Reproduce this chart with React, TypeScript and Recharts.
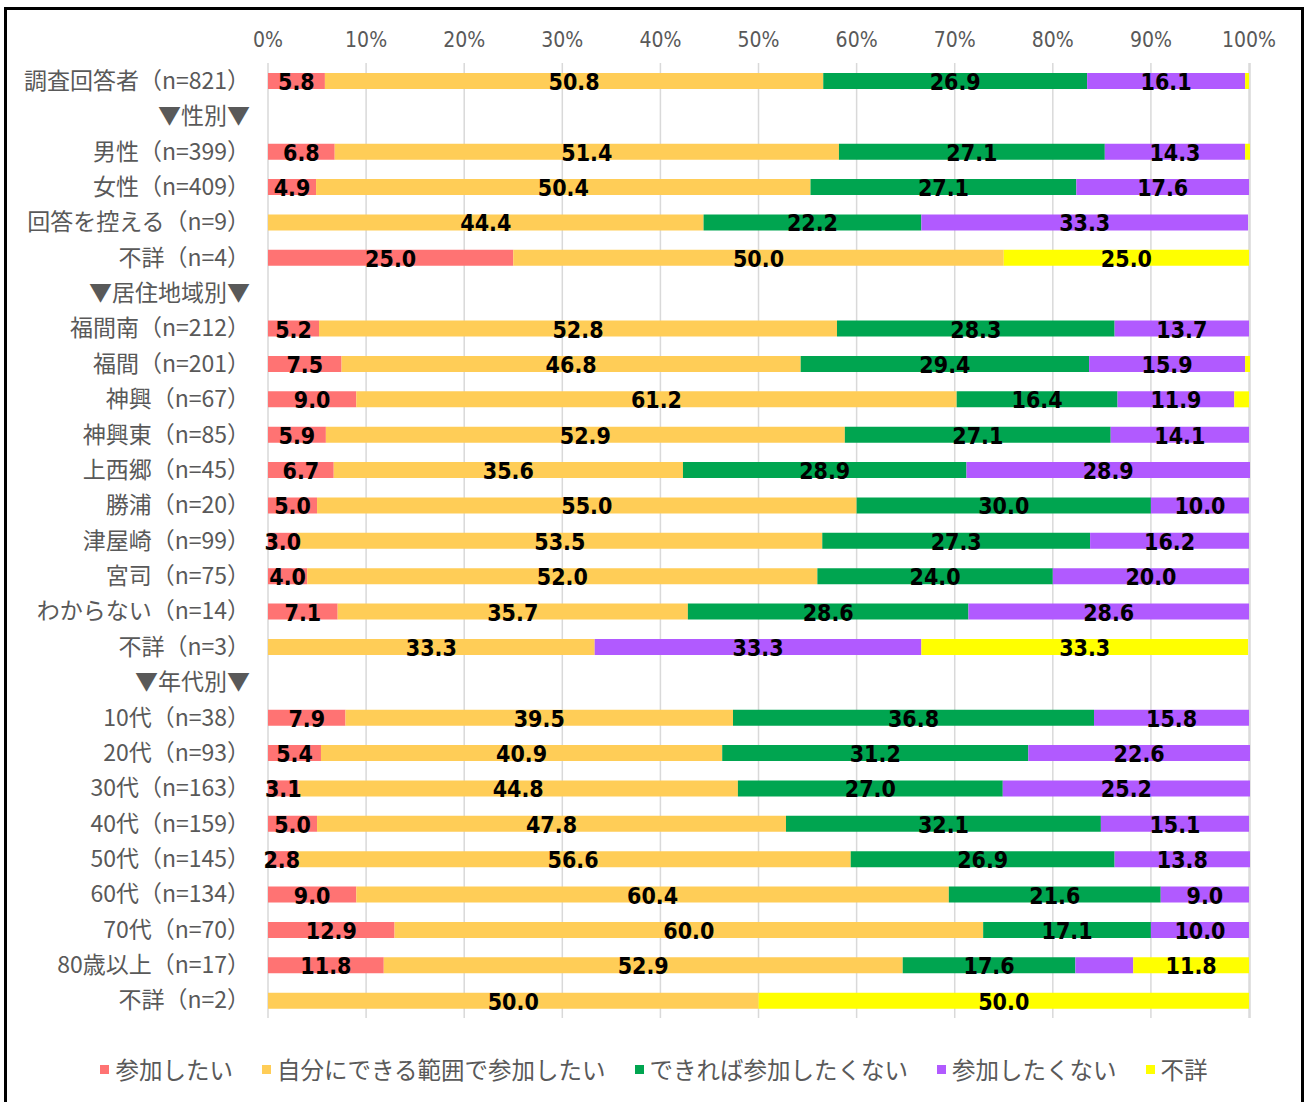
import { BarChart, Bar, XAxis, YAxis, CartesianGrid, Legend, LabelList } from 'recharts';

const categories = [
  '調査回答者（n=821）',
  '▼性別▼',
  '男性（n=399）',
  '女性（n=409）',
  '回答を控える（n=9）',
  '不詳（n=4）',
  '▼居住地域別▼',
  '福間南（n=212）',
  '福間（n=201）',
  '神興（n=67）',
  '神興東（n=85）',
  '上西郷（n=45）',
  '勝浦（n=20）',
  '津屋崎（n=99）',
  '宮司（n=75）',
  'わからない（n=14）',
  '不詳（n=3）',
  '▼年代別▼',
  '10代（n=38）',
  '20代（n=93）',
  '30代（n=163）',
  '40代（n=159）',
  '50代（n=145）',
  '60代（n=134）',
  '70代（n=70）',
  '80歳以上（n=17）',
  '不詳（n=2）',
];

// header rows (▼…▼) have no values
const want = [5.8, null, 6.8, 4.9, 0, 25.0, null, 5.2, 7.5, 9.0, 5.9, 6.7, 5.0, 3.0, 4.0, 7.1, 0, null, 7.9, 5.4, 3.1, 5.0, 2.8, 9.0, 12.9, 11.8, 0];
const withinMeans = [50.8, null, 51.4, 50.4, 44.4, 50.0, null, 52.8, 46.8, 61.2, 52.9, 35.6, 55.0, 53.5, 52.0, 35.7, 33.3, null, 39.5, 40.9, 44.8, 47.8, 56.6, 60.4, 60.0, 52.9, 50.0];
const ratherNot = [26.9, null, 27.1, 27.1, 22.2, 0, null, 28.3, 29.4, 16.4, 27.1, 28.9, 30.0, 27.3, 24.0, 28.6, 0, null, 36.8, 31.2, 27.0, 32.1, 26.9, 21.6, 17.1, 17.6, 0];
const notWant = [16.1, null, 14.3, 17.6, 33.3, 0, null, 13.7, 15.9, 11.9, 14.1, 28.9, 10.0, 16.2, 20.0, 28.6, 33.3, null, 15.8, 22.6, 25.2, 15.1, 13.8, 9.0, 10.0, 5.9, 0];
const unknown = [0.4, null, 0.5, 0, 0, 25.0, null, 0, 0.5, 1.5, 0, 0, 0, 0, 0, 0, 33.3, null, 0, 0, 0, 0, 0, 0, 0, 11.8, 50.0];

const xTicks = [0, 10, 20, 30, 40, 50, 60, 70, 80, 90, 100];

const series = [
  { key: 'want', name: '参加したい', color: '#FF7373', values: want },
  { key: 'withinMeans', name: '自分にできる範囲で参加したい', color: '#FFCD57', values: withinMeans },
  { key: 'ratherNot', name: 'できれば参加したくない', color: '#00A550', values: ratherNot },
  { key: 'notWant', name: '参加したくない', color: '#B15AFF', values: notWant },
  { key: 'unknown', name: '不詳', color: '#FFFF00', values: unknown },
];

// labels the original leaves off (tiny slivers + this one)
const hiddenLabels = [{ row: '80歳以上（n=17）', key: 'notWant' }];

const data = categories.map((name, i) => {
  const row: Record<string, any> = { name };
  series.forEach(s => {
    const v = s.values[i];
    row[s.key] = v;
    const hidden = v == null || v < 2 || hiddenLabels.some(h => h.row === name && h.key === s.key);
    row[s.key + 'Label'] = hidden ? null : v;
  });
  return row;
});

const GRAY = '#595959';
const CJK = "'Noto Sans CJK JP', 'Noto Sans', sans-serif";

const renderLabel = (props: any) => {
  const { value } = props;
  if (value == null) return null;
  const vb = props.viewBox || props;
  const cx = vb.x + vb.width / 2;
  const cy = vb.y + vb.height / 2;
  return (
    <text
      x={cx}
      y={cy + 1}
      textAnchor="middle"
      dominantBaseline="central"
      fill="#000"
      fontSize={23}
      fontWeight="bold"
      fontFamily="'DejaVu Sans Condensed', 'DejaVu Sans', sans-serif"
    >
      {Number(value).toFixed(1)}
    </text>
  );
};

function LegendContent() {
  return (
    <div style={{ display: 'flex', justifyContent: 'center', alignItems: 'center', gap: 29 }}>
      {series.map(s => (
        <div key={s.key} style={{ display: 'flex', alignItems: 'center' }}>
          <span style={{ display: 'inline-block', width: 9, height: 9, background: s.color, marginRight: 6 }} />
          <span style={{ fontSize: 23.5, color: GRAY, fontFamily: CJK, lineHeight: '30px' }}>{s.name}</span>
        </div>
      ))}
    </div>
  );
}

export default function App() {
  return (
    <div
      style={{
        position: 'absolute',
        left: 4,
        top: 7,
        width: 1294,
        height: 1100,
        border: '3px solid #000',
        background: '#fff',
      }}
    >
      <BarChart
        width={1294}
        height={1092}
        data={data}
        layout="vertical"
        margin={{ top: 20, right: 51, bottom: 84, left: 0 }}
        barSize={16}
      >
        <CartesianGrid horizontal={false} stroke="#D9D9D9" strokeWidth={1.5} />
        <XAxis
          type="number"
          orientation="top"
          domain={[0, 100]}
          ticks={xTicks}
          tickFormatter={(v: number) => `${v}%`}
          axisLine={false}
          tickLine={false}
          height={33}
          tickMargin={10}
          tick={{ fill: GRAY, fontSize: 21, fontFamily: "'DejaVu Sans Condensed', 'DejaVu Sans', sans-serif" }}
        />
        <YAxis
          type="category"
          dataKey="name"
          width={261}
          interval={0}
          axisLine={false}
          tickLine={false}
          tickMargin={12}
          tick={{ fill: GRAY, fontSize: 23, fontFamily: CJK }}
        />
        <Legend
          layout="horizontal"
          verticalAlign="middle"
          align="center"
          wrapperStyle={{ top: 1044, left: 0, width: 1294 }}
          content={<LegendContent />}
        />
        {series.map(s => (
          <Bar key={s.key} dataKey={s.key} name={s.name} stackId="a" fill={s.color} isAnimationActive={false}>
            <LabelList dataKey={s.key + 'Label'} content={renderLabel} />
          </Bar>
        ))}
      </BarChart>
    </div>
  );
}
